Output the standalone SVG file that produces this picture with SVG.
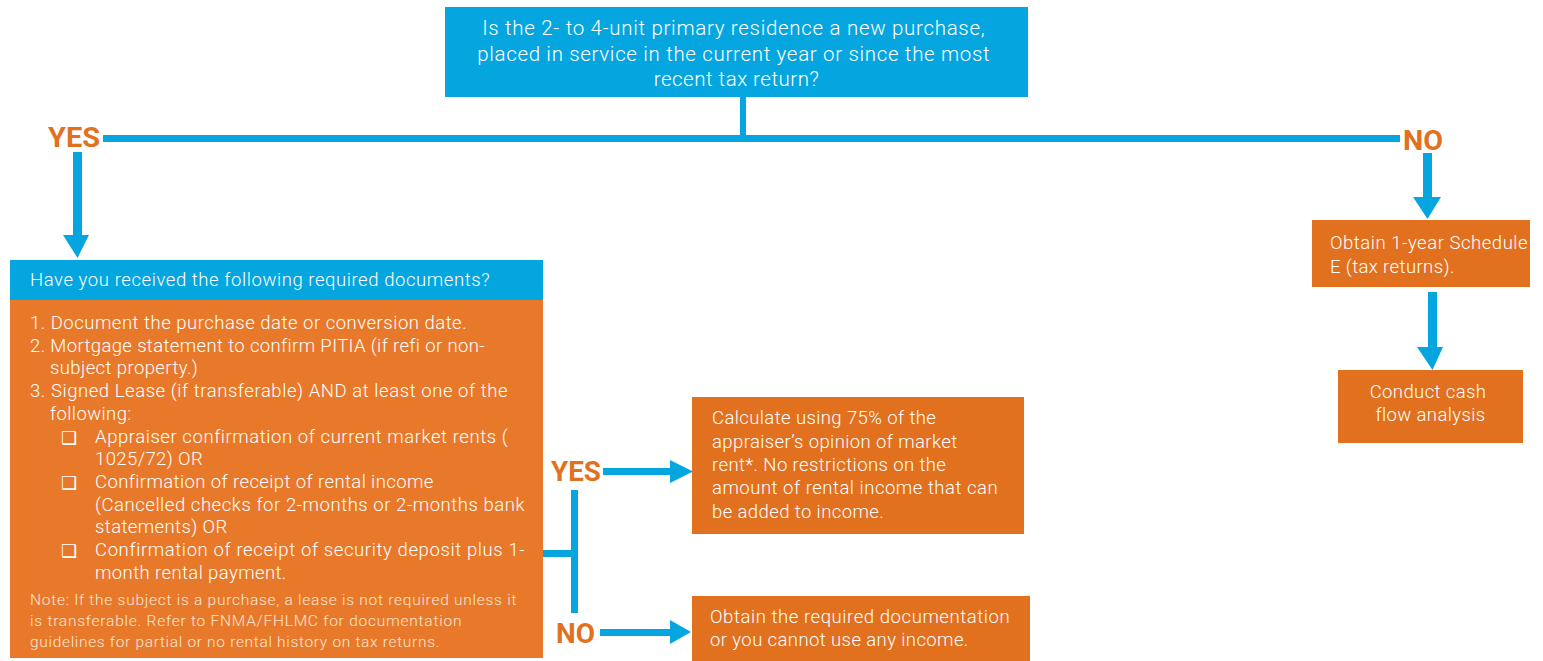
<svg xmlns="http://www.w3.org/2000/svg" width="1543" height="661" viewBox="0 0 1543 661">
  <style>
    .blue { fill: #05A6E0; }
    .orangeL { fill: #E8792A; }
    .orangeR { fill: #E1701F; }
    .t { font-family: Roboto, "Liberation Sans", sans-serif; font-weight: 300; fill: #FFFFFF; }
    .body { font-size: 18.5px; letter-spacing: 0.4px; }
    .box { font-size: 18.5px; letter-spacing: 0.4px; }
    .note { font-size: 15.5px; letter-spacing: 0.6px; fill: #FAE7D4; }
    .lbl { font-family: Roboto, "Liberation Sans", sans-serif; font-weight: bold; font-size: 27px; fill: #E2711F; }
    .cb { font-family: "DejaVu Sans", sans-serif; font-size: 18px; fill: #FFFFFF; }
  </style>

  <g id="question">
    <rect x="445" y="7" width="583" height="90" class="blue"/>
    <text class="t" font-size="20.5" letter-spacing="0.5" text-anchor="middle">
      <tspan x="736.5" y="35" textLength="503">Is the 2- to 4-unit primary residence a new purchase,</tspan>
      <tspan x="736.5" y="60.5" textLength="513">placed in service in the current year or since the most</tspan>
      <tspan x="736.5" y="86">recent tax return?</tspan>
    </text>
  </g>

  <g id="documents">
    <rect x="10" y="260" width="533" height="40" class="blue"/>
    <rect x="10" y="300" width="533" height="358" class="orangeL"/>
    <text class="t body" x="30" y="286" textLength="460">Have you received the following required documents?</text>
    <text class="t body">
      <tspan x="30" y="329" textLength="437">1. Document the purchase date or conversion date.</tspan>
      <tspan x="30" y="352" textLength="455">2. Mortgage statement to confirm PITIA (if refi or non-</tspan>
      <tspan x="50" y="374">subject property.)</tspan>
      <tspan x="30" y="397" textLength="478">3. Signed Lease (if transferable) AND at least one of the</tspan>
      <tspan x="50" y="420">following:</tspan>
      <tspan x="95" y="443" textLength="413">Appraiser confirmation of current market rents (</tspan>
      <tspan x="95" y="465">1025/72) OR</tspan>
      <tspan x="95" y="488">Confirmation of receipt of rental income</tspan>
      <tspan x="95" y="511" textLength="430">(Cancelled checks for 2-months or 2-months bank</tspan>
      <tspan x="95" y="533">statements) OR</tspan>
      <tspan x="95" y="556" textLength="430">Confirmation of receipt of security deposit plus 1-</tspan>
      <tspan x="95" y="579">month rental payment.</tspan>
    </text>
    <text class="cb">
      <tspan x="61" y="444">❑</tspan>
      <tspan x="61" y="489">❑</tspan>
      <tspan x="61" y="557">❑</tspan>
    </text>
    <text class="t note">
      <tspan x="30" y="605" textLength="487">Note: If the subject is a purchase, a lease is not required unless it</tspan>
      <tspan x="30" y="626" textLength="432">is transferable. Refer to FNMA/FHLMC for documentation</tspan>
      <tspan x="30" y="647" textLength="410">guidelines for partial or no rental history on tax returns.</tspan>
    </text>
  </g>

  <g id="calculate">
    <rect x="692" y="397" width="332" height="137" class="orangeR"/>
    <text class="t box">
      <tspan x="712" y="424">Calculate using 75% of the</tspan>
      <tspan x="712" y="448">appraiser’s opinion of market</tspan>
      <tspan x="712" y="471">rent*. No restrictions on the</tspan>
      <tspan x="712" y="494" textLength="286">amount of rental income that can</tspan>
      <tspan x="712" y="518">be added to income.</tspan>
    </text>
  </g>

  <g id="obtain-docs">
    <rect x="692" y="596" width="338" height="70" class="orangeR"/>
    <text class="t box">
      <tspan x="710" y="623" textLength="300">Obtain the required documentation</tspan>
      <tspan x="710" y="646">or you cannot use any income.</tspan>
    </text>
  </g>

  <g id="schedule-e">
    <rect x="1312" y="220" width="218" height="67" class="orangeR"/>
    <text class="t box">
      <tspan x="1330" y="249" textLength="198">Obtain 1-year Schedule</tspan>
      <tspan x="1330" y="273">E (tax returns).</tspan>
    </text>
  </g>

  <g id="cash-flow">
    <rect x="1338" y="370" width="185" height="73" class="orangeR"/>
    <text class="t box" text-anchor="middle">
      <tspan x="1430.5" y="398">Conduct cash</tspan>
      <tspan x="1430.5" y="421">flow analysis</tspan>
    </text>
  </g>

  <g id="connectors">
    <rect x="740" y="97" width="6" height="42" class="blue"/>
    <rect x="103" y="135" width="1297" height="7" class="blue"/>
    <text class="lbl" x="48" y="147" textLength="52" lengthAdjust="spacingAndGlyphs">YES</text>
    <text class="lbl" x="1403" y="150" textLength="40" lengthAdjust="spacingAndGlyphs">NO</text>

    <rect x="73" y="152" width="9" height="84" class="blue"/>
    <polygon points="63,235 89,235 77.5,258" class="blue"/>

    <rect x="1423" y="153" width="9" height="45" class="blue"/>
    <polygon points="1413,197 1441,197 1427.5,219" class="blue"/>

    <rect x="1428" y="292" width="9" height="56" class="blue"/>
    <polygon points="1417,347 1443,347 1432.5,370" class="blue"/>

    <rect x="543" y="550" width="33" height="7" class="blue"/>
    <rect x="571" y="490" width="7" height="123" class="blue"/>

    <text class="lbl" x="551" y="481" textLength="50" lengthAdjust="spacingAndGlyphs">YES</text>
    <rect x="603" y="468" width="68" height="7" class="blue"/>
    <polygon points="670,460 670,483 693,471.5" class="blue"/>

    <text class="lbl" x="556" y="643" textLength="39" lengthAdjust="spacingAndGlyphs">NO</text>
    <rect x="600" y="629" width="71" height="7" class="blue"/>
    <polygon points="670,620 670,644 691,632" class="blue"/>
  </g>
</svg>
